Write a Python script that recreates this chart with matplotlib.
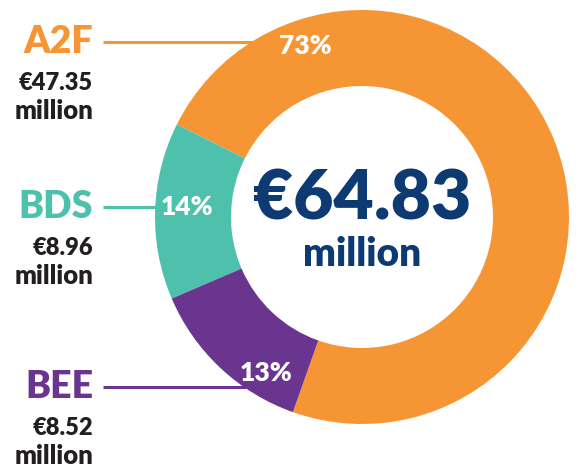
import matplotlib
matplotlib.use("Agg")
import matplotlib.pyplot as plt

# data
names = ["A2F", "BDS", "BEE"]
amounts = [47.35, 8.96, 8.52]
amount_labels = ["€47.35", "€8.96", "€8.52"]
pct_labels = ["73%", "14%", "13%"]
total_label = "€64.83"
colors = ["#F69533", "#4EC1AD", "#6A358F"]

W, H = 578, 468
NAVY = "#0E3A74"
DARK = "#231F20"
plt.rcParams["font.family"] = ["Lato", "DejaVu Sans"]

fig = plt.figure(figsize=(W / 100, H / 100), dpi=100)
ax = fig.add_axes([0, 0, 1, 1])


def Y(y):
    return H - y


cx, cy, r_out = 362, 217, 207
ax.pie(amounts, colors=colors, startangle=250.5, counterclock=True,
       center=(cx, Y(cy)), radius=r_out, frame=True,
       wedgeprops=dict(width=r_out - 131, linewidth=0))
ax.set_xlim(0, W)
ax.set_ylim(0, H)
ax.set_aspect("equal")
ax.axis("off")

# percent labels inside the ring
pct_pos = [(305, 46), (187, 207), (266, 373)]
for (px, py), t in zip(pct_pos, pct_labels):
    ax.text(px, Y(py), t, color="white", fontsize=19, fontweight="heavy",
            ha="center", va="center")

# left labels with connector lines
label_y = [42, 207, 387]
line_end = [252, 157, 246]
for i, name in enumerate(names):
    ly = label_y[i]
    ax.text(93, Y(ly), name, color=colors[i], fontsize=27, fontweight="heavy",
            ha="right", va="center")
    ax.plot([103, line_end[i]], [Y(ly), Y(ly)], color=colors[i], lw=2.2,
            solid_capstyle="butt")
    ax.text(93, Y(ly + 41), amount_labels[i], color=DARK, fontsize=17,
            fontweight="heavy", ha="right", va="center")
    ax.text(93, Y(ly + 69), "million", color=DARK, fontsize=18.5,
            fontweight="heavy", ha="right", va="center")

# centre total
ax.text(cx, Y(200), total_label, color=NAVY, fontsize=50, fontweight="heavy",
        ha="center", va="center")
ax.text(cx, Y(254), "million", color=NAVY, fontsize=28, fontweight="heavy",
        ha="center", va="center")

fig.savefig("out.png", dpi=100, facecolor="white")
